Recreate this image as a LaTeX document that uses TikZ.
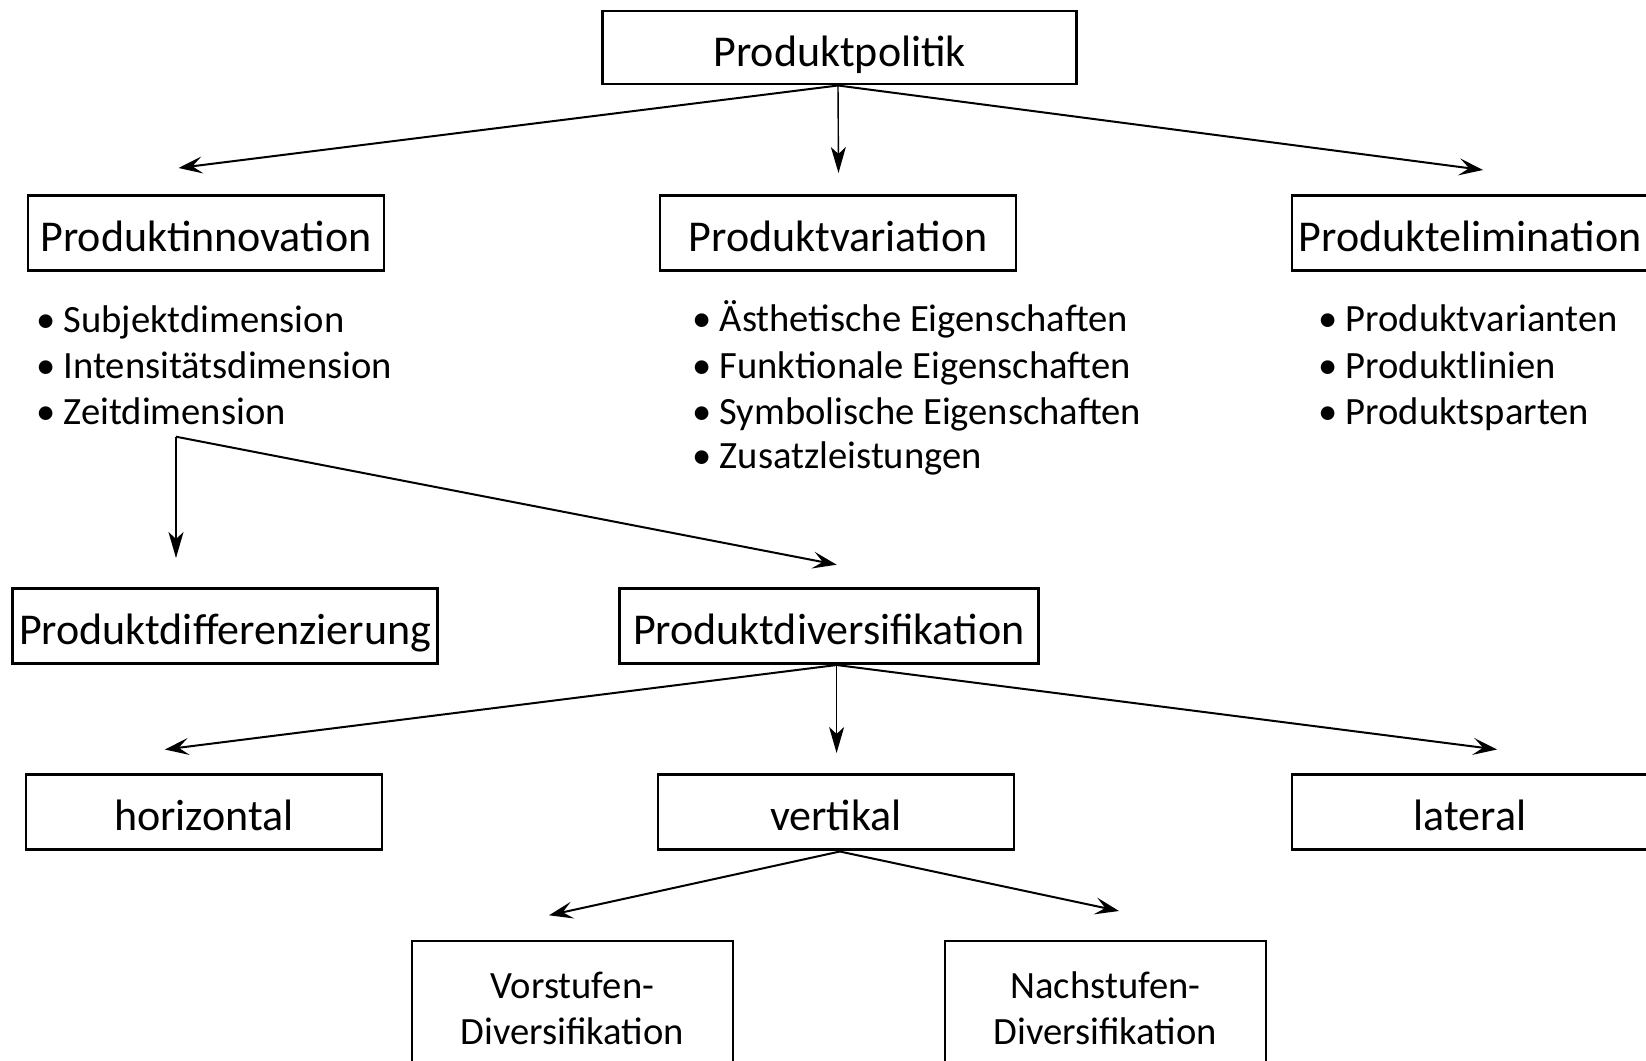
\documentclass[tikz,border=0pt]{standalone}
\usepackage{fontspec}
\setmainfont{Carlito}
\usetikzlibrary{arrows.meta}
\begin{document}
\begin{tikzpicture}[x=1pt,y=-1pt,
  box/.style={draw, line width=2.5pt, inner sep=0pt, align=center},
  single/.style={box, font=\fontsize{44}{52}\selectfont,
    text height=38pt, text depth=0.5pt},
  wide/.style={single, minimum width=356pt, minimum height=75pt},
  smallbox/.style={box, minimum width=321pt, minimum height=134pt,
    font=\fontsize{38.6}{46}\selectfont},
  item/.style={anchor=base west, inner sep=0pt, font=\fontsize{38.6}{46}\selectfont},
  link/.style={line width=2pt, -{Stealth[length=24pt,width=17pt,inset=10pt]}},
  down/.style={line width=1.4pt, -{Stealth[length=26pt,width=15pt,inset=7pt]}}]
\useasboundingbox (0,0) rectangle (1646,1060);

% top level
\node[single, minimum width=474pt, minimum height=73pt] (pp) at (839.7,47.7) {Produktpolitik};

% second level
\node[wide] (pinn) at (206,233) {Produktinnovation};
\node[wide] (pvar) at (838,233) {Produktvariation};
\node[wide] (pel)  at (1470,233) {Produktelimination};

% bullet lists
\newcommand{\bul}[1]{\makebox[27.5pt][l]{•}#1}
\node[item] (l1) at (36,332) {\bul{Subjektdimension}};
\node[item] (l2) at (36,378) {\bul{Intensitätsdimension}};
\node[item] (l3) at (36,424) {\bul{Zeitdimension}};

\node[item] (m1) at (692,331) {\bul{Ästhetische Eigenschaften}};
\node[item] (m2) at (692,378) {\bul{Funktionale Eigenschaften}};
\node[item] (m3) at (692,424) {\bul{Symbolische Eigenschaften}};
\node[item] (m4) at (692,468) {\bul{Zusatzleistungen}};

\node[item] (r1) at (1318,331) {\bul{Produktvarianten}};
\node[item] (r2) at (1318,378) {\bul{Produktlinien}};
\node[item] (r3) at (1318,424) {\bul{Produktsparten}};

% third level
\node[single, minimum width=425pt, minimum height=75pt] (pdiff) at (225,626) {Produktdifferenzierung};
\node[single, minimum width=419pt, minimum height=75pt] (pdiv) at (828.8,626) {Produktdiversifikation};

% fourth level
\node[wide] (hor) at (204,812) {horizontal};
\node[wide] (ver) at (835.8,812) {vertikal};
\node[wide] (lat) at (1470,812) {lateral};

% fifth level
\node[smallbox] (vor) at (572.4,1008) {Vorstufen-\\Diversifikation};
\node[smallbox] (nach) at (1105.4,1008) {Nachstufen-\\Diversifikation};

% branching points and arrow ends
\coordinate (ppo) at (838,85.5);
\coordinate (zd) at (176,436.7);
\coordinate (pdivo) at (836.6,665);
\coordinate (vero) at (839.8,851.5);

\coordinate (e-inn) at (178.5,168);
\coordinate (e-var) at (838.5,173);
\coordinate (e-el) at (1483,170);
\coordinate (e-diff) at (176,558);
\coordinate (e-div) at (836.6,564.7);
\coordinate (e-hor) at (164.8,749.5);
\coordinate (e-ver) at (836.6,753);
\coordinate (e-lat) at (1497,749.5);
\coordinate (e-vor) at (549,915.3);
\coordinate (e-nach) at (1119,911);

% connectors
\draw[link] (ppo) -- (e-inn);
\draw[down] (ppo) -- (e-var);
\draw[link] (ppo) -- (e-el);

\draw[down] (zd) -- (e-diff);
\draw[link] (zd) -- (e-div);

\draw[link] (pdivo) -- (e-hor);
\draw[down] (pdivo) -- (e-ver);
\draw[link] (pdivo) -- (e-lat);

\draw[link] (vero) -- (e-vor);
\draw[link] (vero) -- (e-nach);
\end{tikzpicture}
\end{document}
